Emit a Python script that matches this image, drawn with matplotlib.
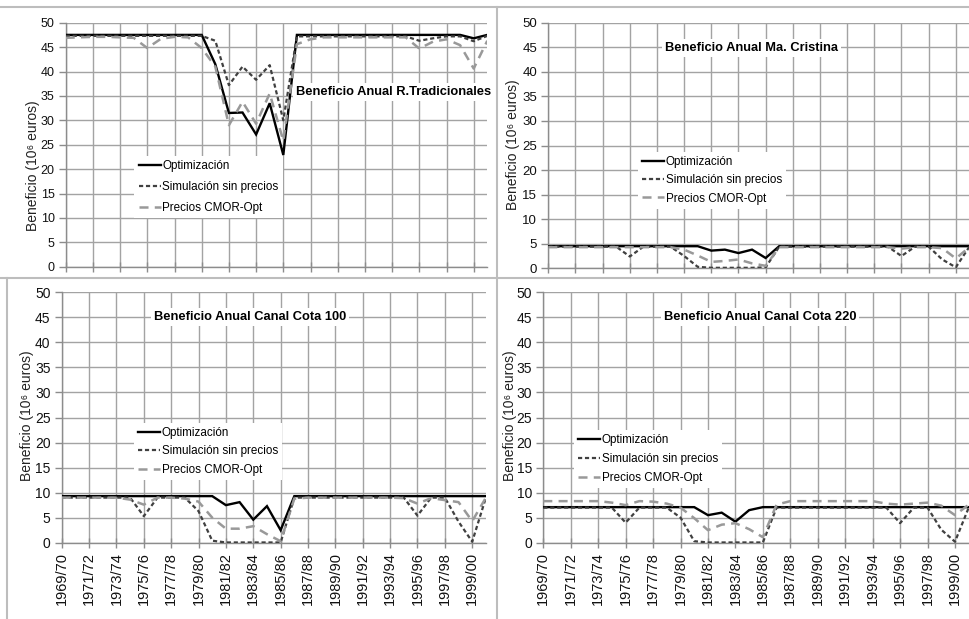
import matplotlib
matplotlib.use("Agg")
import matplotlib.pyplot as plt
from matplotlib.lines import Line2D
import numpy as np

# ---------------------------------------------------------------- data
seasons = ['1969/70', '1970/71', '1971/72', '1972/73', '1973/74', '1974/75',
           '1975/76', '1976/77', '1977/78', '1978/79', '1979/80', '1980/81',
           '1981/82', '1982/83', '1983/84', '1984/85', '1985/86', '1986/87',
           '1987/88', '1988/89', '1989/90', '1990/91', '1991/92', '1992/93',
           '1993/94', '1994/95', '1995/96', '1996/97', '1997/98', '1998/99',
           '1999/00', '2000/01']

series_names = ['Optimización', 'Simulación sin precios', 'Precios CMOR-Opt']

# Beneficio anual R. Tradicionales (10^6 euros)
opt_rt = [47.5, 47.5, 47.5, 47.5, 47.5, 47.5, 47.5, 47.5, 47.5, 47.5, 47.5,
          41.5, 31.5, 31.6, 27.1, 33.5, 22.9, 47.5, 47.5, 47.5, 47.5, 47.5,
          47.5, 47.5, 47.5, 47.5, 47.5, 47.5, 47.5, 47.5, 46.8, 47.5]
sim_rt = [47.3, 47.3, 47.3, 47.3, 47.3, 47.3, 47.3, 47.3, 47.3, 47.3, 47.3,
          46.3, 37.2, 41.0, 38.3, 41.3, 30.0, 47.2, 47.2, 47.2, 47.2, 47.2,
          47.2, 47.2, 47.2, 47.2, 46.3, 46.8, 47.2, 47.2, 46.2, 47.3]
prc_rt = [46.9, 47.0, 47.1, 47.1, 47.0, 46.9, 44.8, 46.7, 47.1, 47.0, 44.8,
          41.0, 29.0, 33.8, 29.3, 35.5, 25.8, 45.6, 46.6, 47.0, 47.0, 47.0,
          47.0, 47.0, 47.0, 47.0, 44.7, 46.1, 46.6, 45.4, 40.6, 46.3]

# Beneficio anual Ma. Cristina
opt_mc = [4.5, 4.5, 4.5, 4.5, 4.5, 4.5, 4.5, 4.5, 4.5, 4.5, 4.5,
          4.5, 3.6, 3.8, 3.1, 3.8, 2.1, 4.5, 4.5, 4.5, 4.5, 4.5,
          4.5, 4.5, 4.5, 4.5, 4.5, 4.5, 4.5, 4.5, 4.5, 4.5]
sim_mc = [4.4, 4.4, 4.4, 4.4, 4.4, 4.4, 2.4, 4.4, 4.4, 4.4, 2.5,
          0.3, 0.1, 0.1, 0.1, 0.1, 0.2, 4.4, 4.4, 4.4, 4.4, 4.4,
          4.4, 4.4, 4.4, 4.4, 2.5, 4.4, 4.4, 1.8, 0.2, 4.4]
prc_mc = [4.3, 4.3, 4.3, 4.3, 4.3, 4.3, 4.3, 4.3, 4.3, 4.3, 3.8,
          2.6, 1.3, 1.5, 1.8, 1.0, 0.5, 4.3, 4.3, 4.3, 4.3, 4.3,
          4.3, 4.3, 4.3, 4.3, 4.0, 4.3, 4.3, 4.1, 2.0, 4.3]

# Beneficio anual Canal Cota 100
opt_c100 = [9.3, 9.3, 9.3, 9.3, 9.3, 9.3, 9.3, 9.3, 9.3, 9.3, 9.3,
            9.3, 7.5, 8.1, 4.6, 7.3, 2.5, 9.3, 9.3, 9.3, 9.3, 9.3,
            9.3, 9.3, 9.3, 9.3, 9.3, 9.3, 9.3, 9.3, 9.3, 9.3]
sim_c100 = [9.0, 9.0, 9.0, 9.0, 9.0, 9.0, 5.3, 9.0, 9.0, 9.0, 6.3,
            0.4, 0.05, 0.05, 0.05, 0.05, 0.05, 9.0, 9.0, 9.0, 9.0, 9.0,
            9.0, 9.0, 9.0, 9.0, 5.4, 9.0, 9.0, 4.2, 0.2, 9.0]
prc_c100 = [9.0, 9.0, 9.0, 9.0, 9.0, 8.6, 7.6, 9.0, 9.0, 8.8, 8.2,
            5.0, 2.8, 2.8, 3.3, 1.7, 0.3, 8.8, 9.0, 9.0, 9.0, 9.0,
            9.0, 9.0, 9.0, 8.9, 7.8, 8.9, 8.5, 8.1, 4.3, 9.0]

# Beneficio anual Canal Cota 220
opt_c220 = [7.1, 7.1, 7.1, 7.1, 7.1, 7.1, 7.1, 7.1, 7.1, 7.1, 7.1,
            7.1, 5.5, 6.0, 4.2, 6.5, 7.1, 7.1, 7.1, 7.1, 7.1, 7.1,
            7.1, 7.1, 7.1, 7.1, 7.1, 7.1, 7.1, 7.1, 7.1, 7.1]
sim_c220 = [7.0, 7.0, 7.0, 7.0, 7.0, 7.0, 4.0, 7.0, 7.0, 7.0, 5.0,
            0.3, 0.05, 0.05, 0.05, 0.05, 0.05, 7.0, 7.0, 7.0, 7.0, 7.0,
            7.0, 7.0, 7.0, 7.0, 3.9, 7.0, 7.0, 2.6, 0.2, 7.0]
prc_c220 = [8.3, 8.3, 8.3, 8.3, 8.3, 8.0, 7.5, 8.3, 8.2, 7.8, 7.0,
            4.9, 2.5, 3.6, 3.9, 2.7, 1.1, 7.6, 8.3, 8.3, 8.3, 8.3,
            8.3, 8.3, 8.3, 7.8, 7.6, 7.8, 8.0, 7.4, 5.5, 7.6]

titles = ['Beneficio Anual R.Tradicionales', 'Beneficio Anual Ma. Cristina',
          'Beneficio Anual Canal Cota 100', 'Beneficio Anual Canal Cota 220']
ylabel = 'Beneficio (10⁶ euros)'

# ---------------------------------------------------------------- style
plt.rcParams['font.family'] = ['Liberation Sans', 'DejaVu Sans']
plt.rcParams['lines.scale_dashes'] = False

W, H = 970, 619
fig = plt.figure(figsize=(W / 100, H / 100), dpi=100)

GRID = '#a3a3a3'
AXC = '#8c8c8c'
styles = [dict(color='black', lw=1.7, ls='-'),
          dict(color='#404040', lw=1.6, dashes=(3.0, 2.0)),
          dict(color='#999999', lw=1.8, dashes=(6.5, 4.5))]

# axes rectangles in pixels: left, top, right, bottom
rects = [(65.7, 22.7, 487.3, 266.7),
         (548.3, 22.7, 969.4, 268.3),
         (61.7, 292.3, 485.9, 542.7),
         (543.3, 292.3, 968.7, 542.7)]

panels = [(opt_rt, sim_rt, prc_rt), (opt_mc, sim_mc, prc_mc),
          (opt_c100, sim_c100, prc_c100), (opt_c220, sim_c220, prc_c220)]

title_pos = [(0.778, 0.716), (0.483, 0.897), (0.444, 0.900), (0.509, 0.901)]
legend_pos = [(0.163, 0.454), (0.213, 0.474), (0.170, 0.478), (0.072, 0.450)]
legend_space = [0.78, 0.54, 0.54, 0.60]
ylabel_pos = [(33, 166), (513, 145), (27, 416), (510, 416)]
ytick_size = [9.0, 9.5, 10.0, 10.0]

x = np.arange(len(seasons))

for k, (rect, data) in enumerate(zip(rects, panels)):
    l, t, r, b = rect
    ax = fig.add_axes([l / W, 1 - b / H, (r - l) / W, (b - t) / H])
    ax.set_facecolor('none')
    for vals, st in zip(data, styles):
        ax.plot(x, vals, solid_joinstyle='miter', **st, zorder=3)
    ax.set_xlim(0, len(seasons) - 1)
    ax.set_ylim(0, 50)
    ax.set_yticks(np.arange(0, 51, 5))
    ax.set_xticks(x[::2])
    if k >= 2:
        ax.set_xticklabels(seasons[::2], rotation=90, fontsize=10.5, color='#111111')
    else:
        ax.set_xticklabels([])
    ax.tick_params(axis='y', labelsize=ytick_size[k], direction='out', length=5,
                   color=AXC, width=1, labelcolor='#111111', pad=3)
    ax.tick_params(axis='x', direction='inout', length=7, color=AXC, width=1, pad=3)
    ax.grid(True, color=GRID, lw=1.0, zorder=0)
    ax.set_axisbelow(True)
    for s in ('top', 'right'):
        ax.spines[s].set_visible(False)
    for s in ('left', 'bottom'):
        ax.spines[s].set_color(AXC)
        ax.spines[s].set_linewidth(1.0)

    ax.text(*title_pos[k], titles[k], transform=ax.transAxes, ha='center', va='center',
            fontsize=9.3, fontweight='bold', zorder=5,
            bbox=dict(facecolor='white', edgecolor='none', pad=2))

    handles = [Line2D([], [], **st) for st in styles]
    leg = ax.legend(handles, series_names, loc='upper left',
                    bbox_to_anchor=legend_pos[k], frameon=True, fancybox=False,
                    edgecolor='none', facecolor='white', framealpha=1,
                    prop=dict(size=8.4),
                    handlelength=1.9, handletextpad=0.15, labelspacing=legend_space[k],
                    borderpad=0.35, borderaxespad=0)
    leg.set_zorder(6)

    fig.text(ylabel_pos[k][0] / W, 1 - ylabel_pos[k][1] / H, ylabel, rotation=90,
             ha='center', va='center', fontsize=10, color='#222222')

# panel separators
SEP = '#bdbdbd'
fig.add_artist(Line2D([0, 1], [1 - 7 / H, 1 - 7 / H], color=SEP, lw=1.5))
fig.add_artist(Line2D([0, 1], [1 - 277.5 / H, 1 - 277.5 / H], color=SEP, lw=1.5))
fig.add_artist(Line2D([497.5 / W, 497.5 / W], [0, 1 - 7 / H], color=SEP, lw=1.5))
fig.add_artist(Line2D([7.5 / W, 7.5 / W], [0, 1 - 277.5 / H], color=SEP, lw=1.5))

fig.savefig('out.png', dpi=100, facecolor='white')
